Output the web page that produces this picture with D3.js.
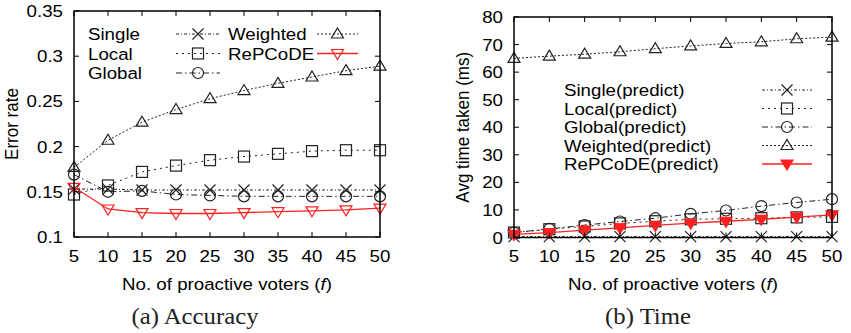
<!DOCTYPE html>
<html>
<head>
<meta charset="utf-8">
<title>Accuracy and time vs proactive voters</title>
<script src="https://cdn.jsdelivr.net/npm/d3@7"></script>
<style>
  body { margin: 0; background: #fff; }
  svg { display: block; }
  .sans { font-family: "Liberation Sans", Arial, Helvetica, sans-serif; font-size: 17px; fill: #000; }
  .serif { font-family: "Liberation Serif", "DejaVu Serif", serif; font-size: 22.5px; fill: #222; }
</style>
</head>
<body>
<div id="chart"></div>
<script>
// x values shared by both panels
var voters = [5, 10, 15, 20, 25, 30, 35, 40, 45, 50];

// (a) Accuracy - error rate
var errSingle   = [0.153, 0.153, 0.152, 0.152, 0.152, 0.152, 0.152, 0.152, 0.152, 0.152];
var errLocal    = [0.147, 0.157, 0.172, 0.179, 0.185, 0.189, 0.192, 0.195, 0.196, 0.196];
var errGlobal   = [0.169, 0.150, 0.151, 0.147, 0.146, 0.145, 0.145, 0.145, 0.145, 0.145];
var errWeighted = [0.177, 0.207, 0.227, 0.241, 0.253, 0.262, 0.270, 0.277, 0.284, 0.289];
var errRepcode  = [0.155, 0.131, 0.127, 0.126, 0.126, 0.127, 0.128, 0.129, 0.130, 0.132];
var errTicks = [0.1, 0.15, 0.2, 0.25, 0.3, 0.35];

// (b) Time - avg time taken (ms)
var tSingle   = [0.3, 0.3, 0.3, 0.3, 0.3, 0.3, 0.3, 0.3, 0.3, 0.3];
var tLocal    = [1.8, 3.0, 4.0, 5.1, 5.9, 6.6, 6.8, 7.0, 7.3, 7.5];
var tGlobal   = [1.8, 3.1, 4.5, 5.8, 7.0, 8.6, 9.8, 11.4, 12.7, 13.9];
var tWeighted = [65.0, 65.8, 66.5, 67.4, 68.5, 69.5, 70.4, 71.0, 72.1, 72.7];
var tRepcode  = [1.1, 1.8, 2.7, 3.5, 4.4, 5.2, 5.9, 6.6, 7.4, 8.2];
var timeTicks = [0, 10, 20, 30, 40, 50, 60, 70, 80];

var W = 851, H = 333;
var SX = 1.1; // the original figure is stretched a bit horizontally

var svg = d3.select("#chart").append("svg")
    .attr("width", W)
    .attr("height", H);

function label(g, x, y, str, cls, anchor, rot) {
  var t = g.append("text")
      .attr("class", cls)
      .attr("text-anchor", anchor || "start")
      .attr("transform", "translate(" + x + "," + y + ") scale(" + SX + ",1)" + (rot ? " rotate(" + rot + ")" : ""))
      .text(str);
  return t;
}

function marker(g, type, x, y, color, filled) {
  var s = 5.5;
  if (type == "x") {
    g.append("path")
      .attr("d", "M" + (x - s) + "," + (y - s) + "L" + (x + s) + "," + (y + s) +
                 "M" + (x - s) + "," + (y + s) + "L" + (x + s) + "," + (y - s))
      .attr("stroke", color).attr("stroke-width", 1.2).attr("fill", "none");
  } else if (type == "square") {
    g.append("rect")
      .attr("x", x - s).attr("y", y - s).attr("width", 2 * s).attr("height", 2 * s)
      .attr("stroke", color).attr("stroke-width", 1.2).attr("fill", "none");
  } else if (type == "circle") {
    g.append("circle")
      .attr("cx", x).attr("cy", y).attr("r", s)
      .attr("stroke", color).attr("stroke-width", 1.2).attr("fill", "none");
  } else if (type == "tri") {
    g.append("path")
      .attr("d", "M" + x + "," + (y - 6) + "L" + (x + 6) + "," + (y + 4) + "L" + (x - 6) + "," + (y + 4) + "Z")
      .attr("stroke", color).attr("stroke-width", 1.2).attr("fill", "none");
  } else if (type == "dtri") {
    g.append("path")
      .attr("d", "M" + x + "," + (y + 6) + "L" + (x + 6) + "," + (y - 4) + "L" + (x - 6) + "," + (y - 4) + "Z")
      .attr("stroke", color).attr("stroke-width", 1.2)
      .attr("fill", filled ? color : "none");
  }
}

function panel(opt) {
  var g = svg.append("g");
  var x = d3.scaleLinear().domain([5, 50]).range([opt.x0, opt.x1]);
  var y = d3.scaleLinear().domain(opt.domain).range([opt.y1, opt.y0]);

  // series
  opt.series.forEach(function(s) {
    var line = d3.line()
        .x(function(d, i) { return x(voters[i]); })
        .y(function(d) { return y(d); });
    g.append("path")
      .datum(s.values)
      .attr("d", line)
      .attr("fill", "none")
      .attr("stroke", s.color)
      .attr("stroke-width", s.width || 1)
      .attr("stroke-dasharray", s.dash || null);
    s.values.forEach(function(d, i) {
      marker(g, s.mark, x(voters[i]), y(d), s.color, s.filled);
    });
  });

  // frame + mirrored inward ticks
  g.append("rect")
    .attr("x", opt.x0).attr("y", opt.y0)
    .attr("width", opt.x1 - opt.x0).attr("height", opt.y1 - opt.y0)
    .attr("fill", "none").attr("stroke", "#000").attr("stroke-width", 1.5);

  var tl = 5;
  voters.forEach(function(v) {
    g.append("line").attr("x1", x(v)).attr("x2", x(v)).attr("y1", opt.y1).attr("y2", opt.y1 - tl)
      .attr("stroke", "#000");
    g.append("line").attr("x1", x(v)).attr("x2", x(v)).attr("y1", opt.y0).attr("y2", opt.y0 + tl)
      .attr("stroke", "#000");
    label(g, x(v), 261.5, String(v), "sans", "middle");
  });
  opt.ticks.forEach(function(v) {
    g.append("line").attr("x1", opt.x0).attr("x2", opt.x0 + tl).attr("y1", y(v)).attr("y2", y(v))
      .attr("stroke", "#000");
    g.append("line").attr("x1", opt.x1).attr("x2", opt.x1 - tl).attr("y1", y(v)).attr("y2", y(v))
      .attr("stroke", "#000");
    label(g, opt.x0 - 11, y(v) + 6, opt.fmt(v), "sans", "end");
  });

  // axis titles
  var xt = label(g, (opt.x0 + opt.x1) / 2, 290, "No. of proactive voters (", "sans", "middle");
  xt.append("tspan").style("font-style", "italic").text("f");
  xt.append("tspan").text(")");
  label(g, opt.ytx, (opt.y0 + opt.y1) / 2, opt.ytitle, "sans", "middle", -90);

  // caption
  label(g, opt.capx, 324, opt.caption, "serif", "middle");

  // legend
  opt.legend.forEach(function(l) {
    var s = l.s;
    label(g, l.tx, l.y + 6, s.name, "sans", "start");
    g.append("line")
      .attr("x1", l.lx0).attr("x2", l.lx1).attr("y1", l.y).attr("y2", l.y)
      .attr("stroke", s.color).attr("stroke-width", s.width || 1)
      .attr("stroke-dasharray", s.dash || null);
    marker(g, s.mark, (l.lx0 + l.lx1) / 2, l.y, s.color, s.filled);
  });
}

var gray = "#222";
var dashSingle = "3,2,1,2", dashLocal = "2,4", dashGlobal = "6,3,1.5,3", dashWeighted = "2,2";

var aSeries = [
  { name: "Single",   values: errSingle,   mark: "x",      color: gray, dash: dashSingle },
  { name: "Local",    values: errLocal,    mark: "square", color: gray, dash: dashLocal },
  { name: "Global",   values: errGlobal,   mark: "circle", color: gray, dash: dashGlobal },
  { name: "Weighted", values: errWeighted, mark: "tri",    color: gray, dash: dashWeighted },
  { name: "RePCoDE",  values: errRepcode,  mark: "dtri",   color: "#ff2020", width: 1.3 }
];

panel({
  x0: 74, x1: 380, y0: 11, y1: 237,
  domain: [0.1, 0.35], ticks: errTicks,
  fmt: function(v) { return String(+v.toFixed(2)); },
  ytitle: "Error rate", ytx: 18,
  caption: "(a)  Accuracy", capx: 195,
  series: aSeries,
  legend: [
    { s: aSeries[0], tx: 88,  y: 34,   lx0: 176, lx1: 220 },
    { s: aSeries[1], tx: 88,  y: 53.5, lx0: 176, lx1: 220 },
    { s: aSeries[2], tx: 88,  y: 73,   lx0: 176, lx1: 220 },
    { s: aSeries[3], tx: 228, y: 34,   lx0: 317, lx1: 358 },
    { s: aSeries[4], tx: 228, y: 53.5, lx0: 317, lx1: 358 }
  ]
});

var bSeries = [
  { name: "Single(predict)",   values: tSingle,   mark: "x",      color: gray, dash: dashSingle },
  { name: "Local(predict)",    values: tLocal,    mark: "square", color: gray, dash: dashLocal },
  { name: "Global(predict)",   values: tGlobal,   mark: "circle", color: gray, dash: dashGlobal },
  { name: "Weighted(predict)", values: tWeighted, mark: "tri",    color: gray, dash: dashWeighted },
  { name: "RePCoDE(predict)",  values: tRepcode,  mark: "dtri",   color: "#ff2020", width: 1.3, filled: true }
];

panel({
  x0: 514, x1: 832, y0: 17, y1: 237.5,
  domain: [0, 80], ticks: timeTicks,
  fmt: function(v) { return String(v); },
  ytitle: "Avg time taken (ms)", ytx: 469,
  caption: "(b)  Time", capx: 648,
  series: bSeries,
  legend: bSeries.map(function(s, i) {
    return { s: s, tx: 564, y: 90 + i * 18.5, lx0: 762, lx1: 812 };
  })
});
</script>
</body>
</html>
